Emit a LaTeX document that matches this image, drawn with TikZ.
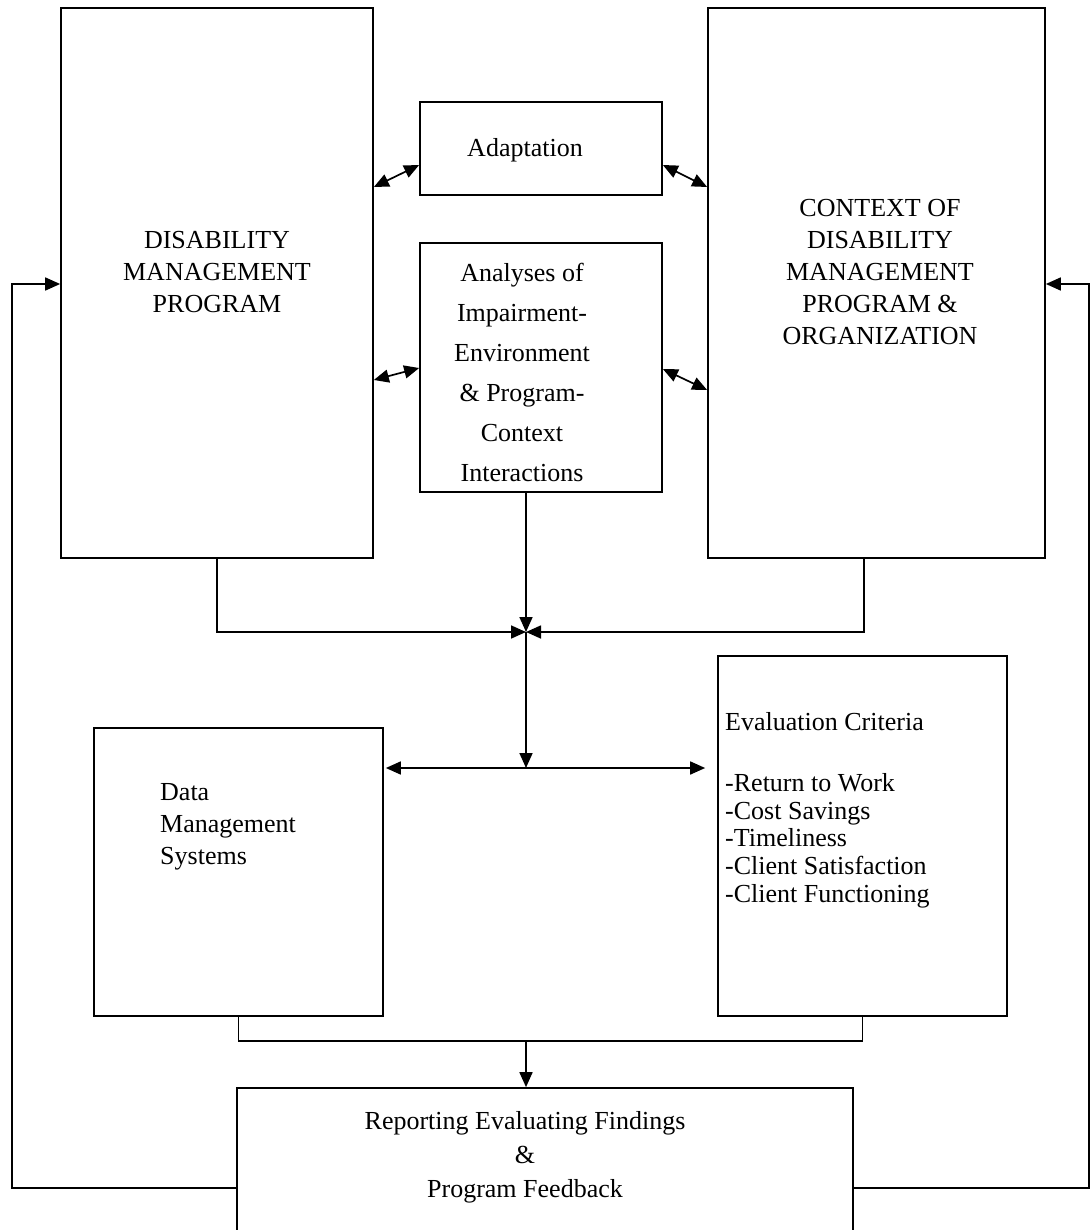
\documentclass[tikz,border=0pt]{standalone}
\usepackage{fontspec}
\setmainfont{Liberation Serif}
\usetikzlibrary{arrows.meta}
\begin{document}
\begin{tikzpicture}[x=1pt,y=-1pt,
  box/.style={draw,line width=1.7pt,inner sep=0pt},
  conn/.style={line width=1.7pt},
  tip/.style={-{Triangle[length=15pt,width=13pt]}},
  dtip/.style={{Triangle[length=15pt,width=13pt]}-{Triangle[length=15pt,width=13pt]}},
  txt/.style={inner sep=0pt,font=\fontsize{26}{32}\selectfont},
  ctxt/.style={txt,align=center},
  ltxt/.style={txt,align=left}]
\useasboundingbox (0,0) rectangle (1090,1230);

% boxes
\node[box,minimum width=312pt,minimum height=550pt] (dmp) at (217,283) {};
\node[box,minimum width=242pt,minimum height=93pt]  (ada) at (541,148.5) {};
\node[box,minimum width=242pt,minimum height=249pt] (ana) at (541,367.5) {};
\node[box,minimum width=337pt,minimum height=550pt] (ctx) at (876.5,283) {};
\node[box,minimum width=289pt,minimum height=288pt] (dms) at (238.5,872) {};
\node[box,minimum width=289pt,minimum height=360pt] (eva) at (862.5,836) {};
\node[box,minimum width=616pt,minimum height=152pt] (rep) at (545,1164) {};

% labels
\node[ctxt] (tdmp) at (217,272) {DISABILITY\\MANAGEMENT\\PROGRAM};
\node[ctxt] (tada) at (525,150) {Adaptation};
\node[ctxt,font=\fontsize{26}{40}\selectfont] (tana) at (522,372.5)
  {Analyses of\\Impairment-\\Environment\\\& Program-\\Context\\Interactions};
\node[ctxt] (tctx) at (880,272)
  {CONTEXT OF\\DISABILITY\\MANAGEMENT\\PROGRAM \&\\ORGANIZATION};
\node[ltxt,anchor=west] (tdms) at (160,827) {Data\\Management\\Systems};
\node[ltxt,anchor=west] (teva) at (725,722) {Evaluation Criteria};
\node[ltxt,anchor=north west,font=\fontsize{26}{27.8}\selectfont] (tlist) at (725,773)
  {-Return to Work\\-Cost Savings\\-Timeliness\\-Client Satisfaction\\-Client Functioning};
\node[ctxt,font=\fontsize{26}{34}\selectfont] (trep) at (525,1157)
  {Reporting Evaluating Findings\\\&\\Program Feedback};

% junction points
\coordinate (hub) at (526,632);
\coordinate (mid) at (526,768);
\coordinate (bk) at (526,1041);
\coordinate (fby) at (0,1188);
\coordinate (fbL) at (12,284);
\coordinate (fbR) at (1089,284);

% links between the program, its context and the analyses
\draw[conn,dtip] (dmp.east |- 0,187) -- (ada.west |- 0,165);
\draw[conn,dtip] (ada.east |- 0,165) -- (ctx.west |- 0,187);
\draw[conn,dtip] (dmp.east |- 0,380) -- (ana.west |- 0,368);
\draw[conn,dtip] (ana.east |- 0,369) -- (ctx.west |- 0,390);

% converging flows
\draw[conn,tip] (dmp.south) |- (hub);
\draw[conn,tip] ([xshift=-12.5pt]ctx.south) |- (hub);
\draw[conn,tip] (ana.south -| hub) -- (hub);
\draw[conn,tip] (hub) -- (mid);
\draw[conn,dtip] ([xshift=2pt]dms.east |- mid) -- ([xshift=-12pt]eva.west |- mid);

% data and criteria feed the report
\draw[conn] (dms.south) |- (bk) -| (eva.south);
\draw[conn,tip] (bk) -- (rep.north -| bk);

% feedback loops
\draw[conn,tip] (rep.west |- fby) -| (fbL) -- (dmp.west |- fbL);
\draw[conn,tip] (rep.east |- fby) -| (fbR) -- (ctx.east |- fbR);
\end{tikzpicture}
\end{document}
